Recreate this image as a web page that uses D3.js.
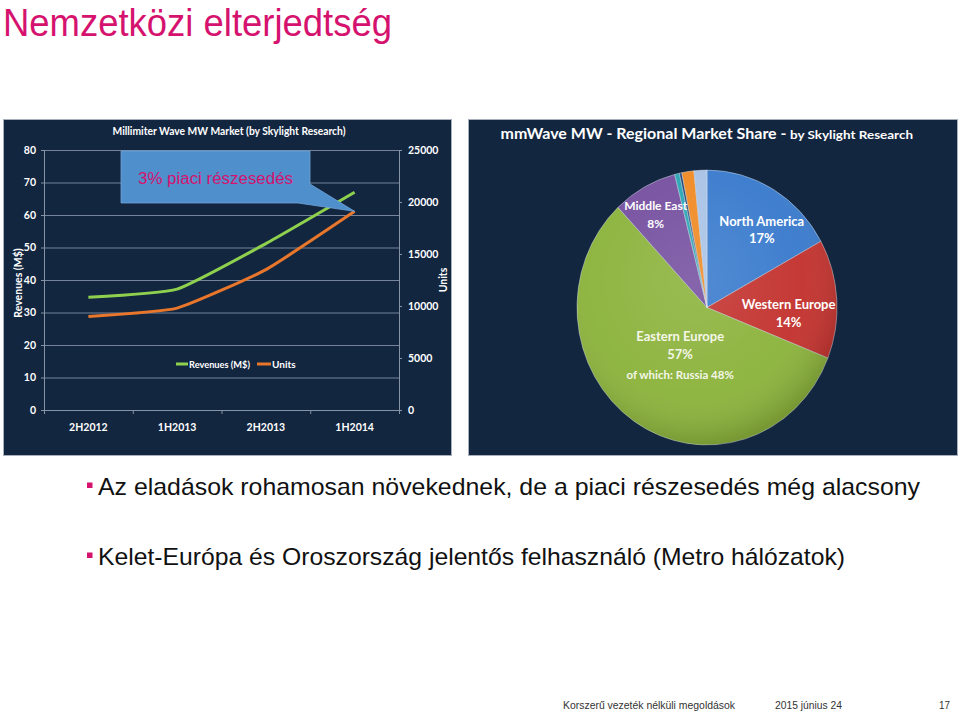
<!DOCTYPE html>
<html><head><meta charset="utf-8">
<script src="https://cdn.jsdelivr.net/npm/d3@7"></script>
<style>body{margin:0;background:#fff;} svg{display:block}</style>
</head><body>
<svg id="c" width="960" height="713"></svg>
<script>
// ---------- DATA ----------
const categories = ["2H2012", "1H2013", "2H2013", "1H2014"];
const revenues = [34.7, 37.2, 51.2, 67.0];          // M$ (left axis)
const units = [9000, 9800, 13500, 19100];           // units (right axis)
const leftTicks = [0, 10, 20, 30, 40, 50, 60, 70, 80];
const rightTicks = [0, 5000, 10000, 15000, 20000, 25000];
const seriesNames = ["Revenues (M$)", "Units"];

const regions = ["North America", "Western Europe", "Eastern Europe", "Middle East", "Other A", "Other B", "Other C", "Other D"];
const shares = [17, 14, 57, 8, 0.6, 0.3, 1.5, 1.6];
const shareLabels = ["17%", "14%", "57%", "8%"];
const russiaNote = "of which: Russia 48%";

const bullets = [
  "Az eladások rohamosan növekednek, de a piaci részesedés még alacsony",
  "Kelet-Európa és Oroszország jelentős felhasználó (Metro hálózatok)"
];
const footer = ["Korszerű vezeték nélküli megoldások", "2015 június 24", "17"];

// ---------- STYLE ----------
const MAGENTA = "#d5136f";
const NAVY = "#13263f";
const W = "#ffffff";
const LATO = "Lato, 'Open Sans', sans-serif";
const ARIAL = "'Liberation Sans', Arial, sans-serif";

const svg = d3.select("#c");

// Title
svg.append("text").attr("x", 3).attr("y", 36)
  .attr("fill", MAGENTA).style("font-family", ARIAL).style("font-size", "39px")
  .attr("textLength", 389).attr("lengthAdjust", "spacingAndGlyphs")
  .text("Nemzetközi elterjedtség");

// Panels
svg.append("rect").attr("x", 3.5).attr("y", 119.5).attr("width", 448).attr("height", 336)
  .attr("fill", NAVY).attr("stroke", "#a7b0bb").attr("stroke-width", 1);
svg.append("rect").attr("x", 468.5).attr("y", 119.5).attr("width", 489).attr("height", 336)
  .attr("fill", NAVY).attr("stroke", "#a7b0bb").attr("stroke-width", 1);

// ---------- LINE CHART ----------
const x = d3.scaleBand().domain(categories).range([44, 399]).padding(0);
const yL = d3.scaleLinear().domain([0, 80]).range([410, 150]);
const yR = d3.scaleLinear().domain([0, 25000]).range([410, 150]);
const lc = svg.append("g");

// chart title
lc.append("text").attr("x", 229).attr("y", 135).attr("text-anchor", "middle")
  .attr("fill", W).style("font-family", LATO).style("font-weight", 700).style("font-size", "11.5px")
  .attr("textLength", 233).attr("lengthAdjust", "spacingAndGlyphs")
  .text("Millimiter Wave MW Market (by Skylight Research)");

// gridlines
lc.append("g").selectAll("line").data(leftTicks.filter(d => d > 0)).join("line")
  .attr("x1", x.range()[0]).attr("x2", x.range()[1])
  .attr("y1", d => yL(d) + 0.5).attr("y2", d => yL(d) + 0.5)
  .attr("stroke", "#75849a").attr("stroke-width", 1);

// left axis
const axL = lc.append("g").attr("transform", `translate(${x.range()[0]},0)`)
  .call(d3.axisLeft(yL).tickValues(leftTicks).tickSize(3).tickPadding(5));
// right axis
const axR = lc.append("g").attr("transform", `translate(${x.range()[1]},0)`)
  .call(d3.axisRight(yR).tickValues(rightTicks).tickFormat(d3.format("d")).tickSize(3).tickPadding(6));
// bottom axis (labels at centers)
const axB = lc.append("g").attr("transform", `translate(0,${yL(0)})`)
  .call(d3.axisBottom(x).tickSize(0).tickPadding(14));
// bottom boundary ticks
const bounds = categories.map(c => x(c)).concat([x.range()[1]]);
lc.append("g").selectAll("line").data(bounds).join("line")
  .attr("x1", d => d + 0.5).attr("x2", d => d + 0.5)
  .attr("y1", yL(0)).attr("y2", yL(0) + 4)
  .attr("stroke", "#8593a6");

[axL, axR, axB].forEach(a => {
  a.select(".domain").attr("stroke", "#8593a6");
  a.selectAll(".tick line").attr("stroke", "#8593a6");
  a.selectAll("text").attr("fill", W).style("font-family", LATO)
    .style("font-weight", 700).style("font-size", "10.5px");
});

// axis titles
lc.append("text").attr("transform", "translate(17.5,283) rotate(-90)")
  .attr("text-anchor", "middle").attr("dominant-baseline", "central")
  .attr("fill", W).style("font-family", LATO).style("font-weight", 700).style("font-size", "10.5px")
  .text("Revenues (M$)");
lc.append("text").attr("transform", "translate(442.5,280) rotate(-90)")
  .attr("text-anchor", "middle").attr("dominant-baseline", "central")
  .attr("fill", W).style("font-family", LATO).style("font-weight", 700).style("font-size", "10.5px")
  .text("Units");

// lines
const cx = c => x(c) + x.bandwidth() / 2;
const curve = d3.curveCardinal.tension(0.55);
const lineRev = d3.line().x((d, i) => cx(categories[i])).y(d => yL(d)).curve(curve);
const lineUnits = d3.line().x((d, i) => cx(categories[i])).y(d => yR(d)).curve(curve);
const GREEN = "#8fd14f", ORANGE = "#e8762b";
lc.append("path").attr("d", lineRev(revenues)).attr("fill", "none").attr("stroke", GREEN).attr("stroke-width", 3);
lc.append("path").attr("d", lineUnits(units)).attr("fill", "none").attr("stroke", ORANGE).attr("stroke-width", 3);

// legend
const lg = lc.append("g").attr("transform", "translate(176,364)");
lg.append("line").attr("x1", 0).attr("x2", 12).attr("stroke", GREEN).attr("stroke-width", 3);
lg.append("text").attr("x", 13).attr("dominant-baseline", "central").attr("fill", W)
  .style("font-family", LATO).style("font-weight", 700).style("font-size", "10px")
  .attr("textLength", 61).attr("lengthAdjust", "spacingAndGlyphs").text(seriesNames[0]);
lg.append("line").attr("x1", 81).attr("x2", 95).attr("stroke", ORANGE).attr("stroke-width", 3);
lg.append("text").attr("x", 96).attr("dominant-baseline", "central").attr("fill", W)
  .style("font-family", LATO).style("font-weight", 700).style("font-size", "10px").text(seriesNames[1]);

// callout
const tip = [cx(categories[3]), yR(units[3])];
const cl = svg.append("g");
const r0 = {x0: 121, y0: 151, x1: 310, y1: 203};
const cp = d3.path();
cp.moveTo(r0.x0, r0.y0); cp.lineTo(r0.x1, r0.y0); cp.lineTo(r0.x1, 184);
cp.lineTo(tip[0], tip[1]); cp.lineTo(298, r0.y1); cp.lineTo(r0.x0, r0.y1); cp.closePath();
cl.append("path").attr("d", cp.toString()).attr("fill", "#4f8fcc").attr("stroke", "#6ea3d8").attr("stroke-width", 0.8);
cl.append("text").attr("x", 215.5).attr("y", 184).attr("text-anchor", "middle")
  .attr("fill", MAGENTA).style("font-family", ARIAL).style("font-size", "16px")
  .attr("textLength", 155).attr("lengthAdjust", "spacingAndGlyphs")
  .text("3% piaci részesedés");

// ---------- PIE CHART ----------
const pc = svg.append("g");
pc.append("text").attr("x", 500.5).attr("y", 139).attr("fill", W)
  .style("font-family", LATO).style("font-weight", 700).style("font-size", "15px")
  .attr("textLength", 286).attr("lengthAdjust", "spacingAndGlyphs")
  .text("mmWave MW - Regional Market Share -");
pc.append("text").attr("x", 790).attr("y", 139).attr("fill", W)
  .style("font-family", LATO).style("font-weight", 700).style("font-size", "12px")
  .attr("textLength", 123).attr("lengthAdjust", "spacingAndGlyphs")
  .text("by Skylight Research");

const PCX = 707, PCY = 307.5, R = 130, SY = 1.057;
const colors = ["#3a7bcd", "#c3332f", "#8cb33c", "#7650a0", "#2aa5b5", "#1d3f73", "#f08a24", "#a9c3e6"];
const pie = d3.pie().value(d => d).sort(null);
const arcs = pie(shares);
const arc = d3.arc().innerRadius(0).outerRadius(R);

const defs = svg.append("defs");
const rg = defs.append("radialGradient").attr("id", "shade").attr("cx", "45%").attr("cy", "40%").attr("r", "60%");
rg.append("stop").attr("offset", "0%").attr("stop-color", "#fff").attr("stop-opacity", 0.12);
rg.append("stop").attr("offset", "70%").attr("stop-color", "#fff").attr("stop-opacity", 0.03);
rg.append("stop").attr("offset", "100%").attr("stop-color", "#000").attr("stop-opacity", 0.15);

const pg = pc.append("g").attr("transform", `translate(${PCX},${PCY}) scale(1,${SY})`);
pg.selectAll("path.slice").data(arcs).join("path").attr("class", "slice")
  .attr("d", arc).attr("fill", (d, i) => colors[i])
  .attr("stroke", "rgba(220,230,240,0.55)").attr("stroke-width", 0.8);
pg.append("circle").attr("r", R).attr("fill", "url(#shade)");

// labels
const labelLayout = [
  {da: 6.4, rf: 0.70, lines: [-8.5, 9], fs: [13, 13]},
  {da: 8.3, rf: 0.63, lines: [-8.7, 9], fs: [13, 13]},
  {da: 0.8, rf: 0.36, lines: [-10.5, 8, 28], fs: [13, 13, 11.5]},
  {da: -1.6, rf: 0.78, lines: [-7.8, 9.5], fs: [12, 12]}
];
labelLayout.forEach((L, i) => {
  const a = arcs[i];
  const mid = (a.startAngle + a.endAngle) / 2 + L.da * Math.PI / 180;
  const lx = PCX + Math.sin(mid) * L.rf * R;
  const ly = PCY - Math.cos(mid) * L.rf * R * SY;
  const texts = [regions[i], shareLabels[i]];
  if (i === 2) texts.push(russiaNote);
  texts.forEach((t, j) => {
    pc.append("text").attr("x", lx).attr("y", ly + L.lines[j]).attr("text-anchor", "middle")
      .attr("dominant-baseline", "middle")
      .attr("fill", i === 2 ? "#f4f6e8" : W)
      .style("font-family", LATO).style("font-weight", 700).style("font-size", L.fs[j] + "px")
      .text(t);
  });
});

// ---------- BULLETS ----------
const by = [495, 565];
bullets.forEach((b, i) => {
  svg.append("rect").attr("x", 87).attr("y", by[i] - 12.5).attr("width", 5.5).attr("height", 5.5).attr("fill", MAGENTA);
  svg.append("text").attr("x", 98).attr("y", by[i]).attr("fill", "#111")
    .style("font-family", ARIAL).style("font-size", "24px")
    .attr("textLength", i === 0 ? 822 : 747).attr("lengthAdjust", "spacingAndGlyphs")
    .text(b);
});

// ---------- FOOTER ----------
const fx = [563, 775, 939], fw = [172, 67, 11];
footer.forEach((f, i) => {
  svg.append("text").attr("x", fx[i]).attr("y", 709).attr("fill", "#333")
    .style("font-family", ARIAL).style("font-size", "11px")
    .attr("textLength", fw[i]).attr("lengthAdjust", "spacingAndGlyphs").text(f);
});
</script>
</body></html>
